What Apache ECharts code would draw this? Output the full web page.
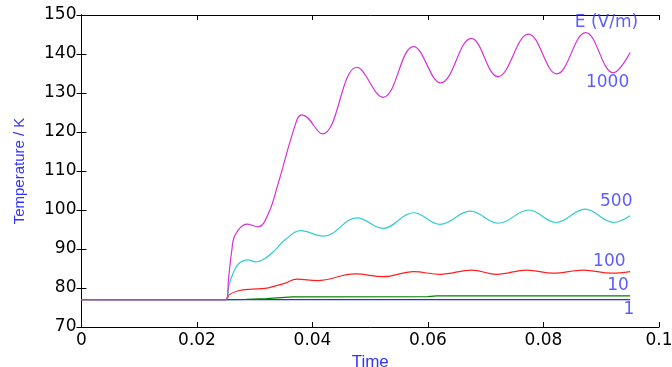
<!DOCTYPE html>
<html>
<head>
<meta charset="utf-8">
<script src="https://cdn.jsdelivr.net/npm/echarts@6/dist/echarts.min.js"></script>
<style>
  html, body { margin: 0; padding: 0; background: #fff; }
  #chart { width: 672px; height: 367px; }
</style>
</head>
<body>
<div id="chart"></div>
<script>
// time axis values (s) and temperatures (K)
const t1000 = [0, 0.025, 0.0255, 0.0260, 0.0266, 0.0286, 0.0306, 0.0324, 0.0340, 0.0373, 0.0382, 0.0417, 0.0477, 0.0522, 0.0575, 0.0622, 0.0675, 0.0721, 0.0774, 0.0823, 0.0873, 0.0921, 0.0950];
const T1000 = [77, 77, 83.0, 89.3, 93.6, 96.4, 95.7, 99.2, 106.5, 123.1, 124.4, 119.5, 136.6, 128.9, 141.9, 132.6, 144.0, 134.2, 145.1, 134.9, 145.5, 135.2, 140.4];

const t500 = [0, 0.025, 0.0255, 0.0262, 0.0272, 0.0289, 0.0301, 0.0318, 0.0335, 0.0352, 0.0379, 0.0419, 0.0477, 0.0522, 0.0575, 0.0621, 0.0673, 0.0722, 0.0774, 0.0822, 0.0872, 0.0921, 0.0950];
const T500 = [77, 77, 80.5, 83.6, 86.2, 87.2, 86.7, 87.6, 89.7, 92.3, 94.7, 93.3, 98.0, 95.3, 99.3, 96.3, 99.7, 96.6, 100.0, 96.8, 100.2, 96.8, 98.5];

const t100 = [0, 0.025, 0.0256, 0.0272, 0.0295, 0.0318, 0.0335, 0.0352, 0.0373, 0.0408, 0.0474, 0.0523, 0.0575, 0.0621, 0.0676, 0.0719, 0.0771, 0.0817, 0.0869, 0.0918, 0.0950];
const T100 = [77, 77, 78.3, 79.3, 79.7, 79.9, 80.5, 81.2, 82.3, 81.9, 83.6, 82.9, 84.2, 83.5, 84.6, 83.5, 84.6, 83.8, 84.6, 83.8, 84.2];

const t10 = [0, 0.025, 0.0285, 0.0320, 0.0365, 0.0600, 0.0615, 0.0700, 0.0950];
const T10 = [77, 77, 77.1, 77.3, 77.7, 77.8, 78.0, 78.0, 78.0];

const t1 = [0, 0.025, 0.0950];
const T1 = [77, 77, 77];

// annotation labels
const labelText = ["E (V/m)", "1000", "500", "100", "10", "1"];
const labelX = [0.0909, 0.0911, 0.0926, 0.0914, 0.0929, 0.0948];
const labelY = [148.0, 132.6, 102.1, 86.9, 80.5, 74.4];

function pairs(xs, ys) {
  return xs.map((x, i) => [x, ys[i]]);
}

const chart = echarts.init(document.getElementById("chart"), null, { renderer: "canvas" });

const tickFont = { fontFamily: "DejaVu Sans", fontSize: 17, color: "#000" };
const blue = "#3333ff";

function lineSeries(name, xs, ys, color, smooth) {
  return {
    name: name,
    type: "line",
    data: pairs(xs, ys),
    showSymbol: false,
    smooth: smooth,
    lineStyle: { color: color, width: 1.2 },
    itemStyle: { color: color },
    silent: true,
    animation: false,
  };
}

const option = {
  animation: false,
  backgroundColor: "#fff",
  grid: { left: 81.5, right: 13, top: 15, bottom: 40, show: false, outerBoundsMode: "none", containLabel: false },
  xAxis: [
    {
      type: "value",
      min: 0,
      max: 0.1,
      interval: 0.02,
      name: "Time",
      nameLocation: "middle",
      nameGap: 20,
      nameTextStyle: { color: blue, fontFamily: "Liberation Sans", fontSize: 17 },
      axisLine: { lineStyle: { color: "#000", width: 1 } },
      axisTick: { inside: true, length: 5, lineStyle: { color: "#000" } },
      axisLabel: Object.assign({ margin: 5, formatter: (v) => String(v) }, tickFont),
      splitLine: { show: false },
    },
    {
      type: "value",
      position: "top",
      min: 0,
      max: 0.1,
      interval: 0.02,
      axisLine: { show: true, lineStyle: { color: "#000", width: 1 } },
      axisTick: { show: true, inside: true, length: 5, lineStyle: { color: "#000" } },
      axisLabel: { show: false },
      splitLine: { show: false },
    },
  ],
  yAxis: [
    {
      type: "value",
      min: 70,
      max: 150,
      interval: 10,
      name: "Temperature / K",
      nameLocation: "middle",
      nameGap: 54,
      nameRotate: 90,
      nameTextStyle: { color: blue, fontFamily: "Liberation Sans", fontSize: 15 },
      axisLine: { show: true, lineStyle: { color: "#000", width: 1 } },
      axisTick: { show: true, inside: true, length: 5, lineStyle: { color: "#000" } },
      axisLabel: Object.assign({ margin: 5 }, tickFont),
      splitLine: { show: false },
    },
    {
      type: "value",
      position: "right",
      min: 70,
      max: 150,
      interval: 10,
      axisLine: { show: true, lineStyle: { color: "#000", width: 1 } },
      axisTick: { show: true, inside: true, length: 5, lineStyle: { color: "#000" } },
      axisLabel: { show: false },
      splitLine: { show: false },
    },
  ],
  series: [
    lineSeries("1", t1, T1, "#2a2aff", false),
    lineSeries("10", t10, T10, "#008000", false),
    lineSeries("100", t100, T100, "#ff2020", 0.4),
    lineSeries("500", t500, T500, "#33cccc", 0.4),
    lineSeries("1000", t1000, T1000, "#d630d6", 0.4),
    {
      type: "scatter",
      symbolSize: 0,
      silent: true,
      data: labelText.map((s, i) => ({ name: s, value: [labelX[i], labelY[i]] })),
      label: {
        show: true,
        position: "inside",
        formatter: (p) => p.name,
        color: blue,
        fontFamily: "DejaVu Sans",
        fontSize: 17,
      },
    },
  ],
};

chart.setOption(option);
</script>
</body>
</html>
